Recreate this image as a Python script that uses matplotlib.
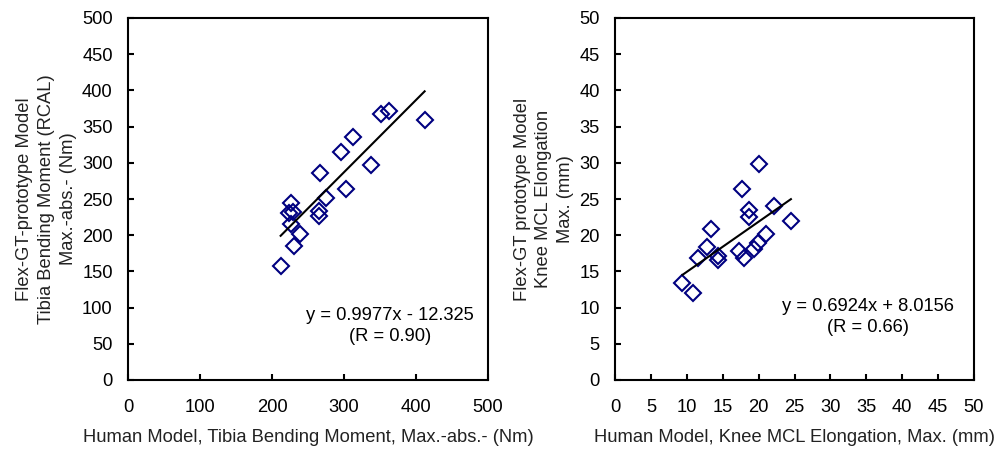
import numpy as np
import matplotlib.pyplot as plt

plt.rcParams['font.family'] = ['Liberation Sans', 'DejaVu Sans']

# Tibia bending moment (Nm): human model vs Flex-GT prototype
tibia_human = [212, 230, 239, 226, 224, 229, 226, 265, 265, 275, 267, 303,
               296, 312, 338, 352, 362, 412]
tibia_flex = [157, 185, 202, 216, 231, 232, 244, 234, 227, 252, 286, 264,
              315, 336, 297, 368, 372, 359]
tibia_fit = (0.9977, -12.325)
tibia_text = 'y = 0.9977x - 12.325\n(R = 0.90)'

# Knee MCL elongation (mm)
mcl_human = [9.4, 10.9, 11.5, 12.8, 13.4, 14.3, 14.4, 17.3, 17.9, 17.7, 18.6,
             18.7, 19.3, 19.9, 21.0, 20.1, 22.2, 24.5]
mcl_flex = [13.4, 12.0, 16.8, 18.4, 20.8, 17.1, 16.6, 17.8, 16.8, 26.4, 23.5,
            22.5, 18.1, 18.9, 20.1, 29.8, 24.1, 22.0]
mcl_fit = (0.6924, 8.0156)
mcl_text = 'y = 0.6924x + 8.0156\n(R = 0.66)'

fs = 13.2
fig = plt.figure(figsize=(9.98, 4.5), dpi=100)
ax1 = fig.add_axes([128/998, 70/450, 360/998, 362/450])
ax2 = fig.add_axes([615/998, 70/450, 359/998, 362/450])

panels = [
    (ax1, tibia_human, tibia_flex, tibia_fit, tibia_text, 500, 100, 50,
     'Human Model, Tibia Bending Moment, Max.-abs.- (Nm)',
     'Flex-GT-prototype Model\nTibia Bending Moment (RCAL)\nMax.-abs.- (Nm)',
     (364, 75)),
    (ax2, mcl_human, mcl_flex, mcl_fit, mcl_text, 50, 5, 5,
     'Human Model, Knee MCL Elongation, Max. (mm)',
     'Flex-GT prototype Model\nKnee MCL Elongation\nMax. (mm)',
     (35.2, 8.7)),
]

for ax, xs, ys, fit, txt, lim, xstep, ystep, xlab, ylab, tpos in panels:
    ax.plot(xs, ys, linestyle='none', marker='D', markersize=8,
            markerfacecolor='none', markeredgecolor='#000080',
            markeredgewidth=1.5)
    xl = np.array([min(xs), max(xs)])
    ax.plot(xl, fit[0] * xl + fit[1], color='black', linewidth=1.5)
    ax.text(tpos[0], tpos[1], txt, ha='center', va='center', fontsize=fs,
            linespacing=1.3)
    ax.set_xlim(0, lim)
    ax.set_ylim(0, lim)
    ax.set_xticks(np.arange(0, lim + 0.1, xstep))
    ax.set_yticks(np.arange(0, lim + 0.1, ystep))
    ax.tick_params(direction='in', length=4, width=1.5, labelsize=fs)
    ax.tick_params(axis='x', pad=14)
    ax.tick_params(axis='y', pad=11)
    for sp in ax.spines.values():
        sp.set_linewidth(1.5)
    ax.set_xlabel(xlab, fontsize=fs, color='#222222', labelpad=9)
    ax.set_ylabel(ylab, fontsize=fs, color='#222222', labelpad=4,
                  linespacing=1.35)

fig.savefig('out.png', dpi=100)
